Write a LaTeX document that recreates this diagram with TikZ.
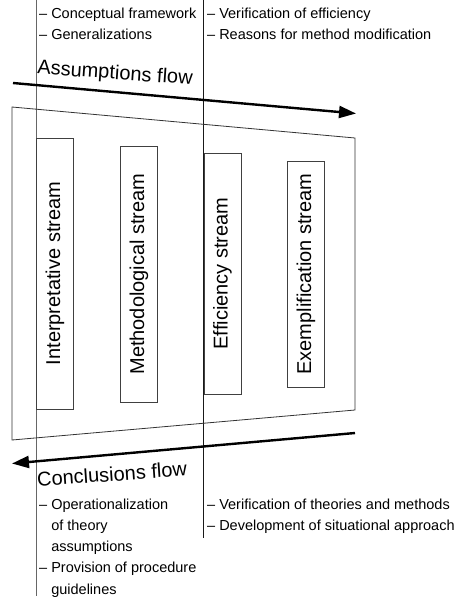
\documentclass[tikz,border=0pt]{standalone}
\usepackage{fontspec}
\setmainfont{Liberation Sans}
\usetikzlibrary{arrows.meta, positioning}

\begin{document}
\begin{tikzpicture}[x=1pt, y=-1pt,
            stream/.style={rectangle, draw=black!75, line width=0.8pt, rotate=90, inner sep=0pt, minimum height=37pt, font=\fontsize{20}{24}\selectfont},
            note/.style={anchor=base west, inner sep=0pt, align=left, font=\fontsize{14.5}{21.2}\selectfont},
            flowlabel/.style={inner sep=0pt, font=\fontsize{20}{24}\selectfont},
            flow/.style={-{Triangle[length=17pt, width=12pt]}, line width=2.4pt},
            divider/.style={line width=0.9pt}
        ]
            \useasboundingbox (0,0) rectangle (467,600);

            % --- separating lines ---
            \coordinate (lefttop) at (36,0);
            \coordinate (leftbot) at (36,596);
            \coordinate (midtop) at (203.5,0);
            \coordinate (midbot) at (203.5,538);
            \draw[divider, black!60] (lefttop) -- (leftbot);
            \draw[divider, black!90] (midtop) -- (midbot);

            % --- the frame ---
            \draw[line width=0.8pt, black!80] (12,107) -- (355,138) -- (355,410) -- (12,440) -- cycle;

            % --- streams ---
            \node[stream, minimum width=271pt] (interp) at (55,273.5) {Interpretative stream};
            \node[stream, minimum width=256pt] (method) at (139,274) {Methodological stream};
            \node[stream, minimum width=241pt] (effic) at (222.5,273.5) {Efficiency stream};
            \node[stream, minimum width=226pt] (exempl) at (306,274) {Exemplification stream};

            % --- flows ---
            \coordinate (astart) at (13,83);
            \coordinate (aend) at (356,113.5);
            \draw[flow] (astart) -- (aend);
            \node[flowlabel, rotate=-4] (assum) at (115,74) {Assumptions flow};

            \coordinate (cstart) at (355,433);
            \coordinate (cend) at (12,463.5);
            \draw[flow] (cstart) -- (cend);
            \node[flowlabel, rotate=4] (concl) at (112,474) {Conclusions flow};

            % --- notes above (base = last line) ---
            \node[note] (topleft) at (39,39.5) {-- Conceptual framework\\-- Generalizations};
            \node[note] (topright) at (207,39.5) {-- Verification of efficiency\\-- Reasons for method modification};

            % --- notes below ---
            \node[note] (botleft) at (39,594) {-- Operationalization\\\phantom{-- }of theory\\\phantom{-- }assumptions\\-- Provision of procedure\\\phantom{-- }guidelines};
            \node[note] (botright) at (207,530.5) {-- Verification of theories and methods\\-- Development of situational approach};
        \end{tikzpicture}
\end{document}
